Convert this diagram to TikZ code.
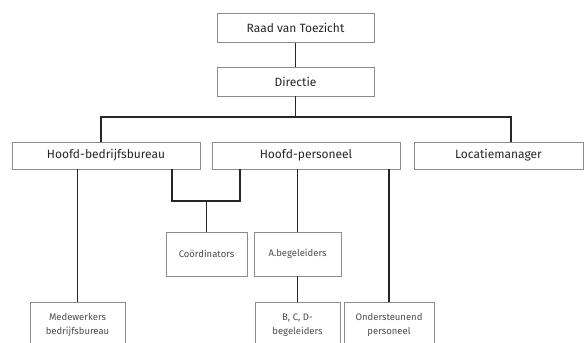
\documentclass[tikz,border=0pt]{standalone}
\usepackage{fontspec}
\setmainfont{Fira Sans}
\begin{document}
\begin{tikzpicture}[x=1pt,y=-1pt,
  box/.style={draw=black!45, line width=0.8pt, rectangle, inner sep=0pt, text=black!85},
  big/.style={box, font=\fontsize{12}{14}\selectfont},
  small/.style={box, font=\fontsize{9.5}{14}\selectfont, align=center, text=black!70},
  conn/.style={draw=black!85, line width=1.1pt}]
\useasboundingbox (0,0) rectangle (585,342);
\clip (0,0) rectangle (585,342);
% top
\node[big, minimum width=157pt, minimum height=29pt] (raad) at (295.5,28) {Raad van Toezicht};
\node[big, minimum width=157pt, minimum height=29pt] (dir) at (295.5,81.5) {Directie};
% level 2
\node[big, minimum width=188pt, minimum height=27pt] (hb) at (106,155.5) {Hoofd-bedrijfsbureau};
\node[big, minimum width=188pt, minimum height=27pt] (hp) at (306,155.5) {Hoofd-personeel};
\node[big, minimum width=169pt, minimum height=27pt] (loc) at (498.5,155.5) {Locatiemanager};
% level 3
\node[small, minimum width=81pt, minimum height=44pt] (coor) at (206.5,254) {Coördinators};
\node[small, minimum width=87pt, minimum height=44pt] (ab) at (297.5,254) {A.begeleiders};
% level 4
\node[small, minimum width=95pt, minimum height=46pt] (med) at (77.5,325) {Medewerkers\\bedrijfsbureau};
\node[small, minimum width=85pt, minimum height=46pt] (bcd) at (297.5,325) {B, C, D-\\begeleiders};
\node[small, minimum width=90pt, minimum height=46pt] (ond) at (389,325) {Ondersteunend\\personeel};
% coordinates
\coordinate (busL) at (101,117);
\coordinate (busR) at (511,117);
\coordinate (brL) at (172,201);
\coordinate (brR) at (240,201);
% connectors
\draw[conn] (raad) -- (dir);
\draw[conn] (dir.south) -- (dir.south |- busL);
\draw[conn] (busL |- hb.north) -- (busL) -- (busR) -- (busR |- loc.north);
\draw[conn] (med.north |- hb.south) -- (med.north);
\draw[conn] (brL |- hb.south) -- (brL) -- (brR) -- (brR |- hp.south);
\draw[conn] (coor.north |- brL) -- (coor.north);
\draw[conn] (ab.north |- hp.south) -- (ab.north);
\draw[conn] (ab.south) -- (bcd.north);
\draw[conn] (ond.north |- hp.south) -- (ond.north);
\end{tikzpicture}
\end{document}
